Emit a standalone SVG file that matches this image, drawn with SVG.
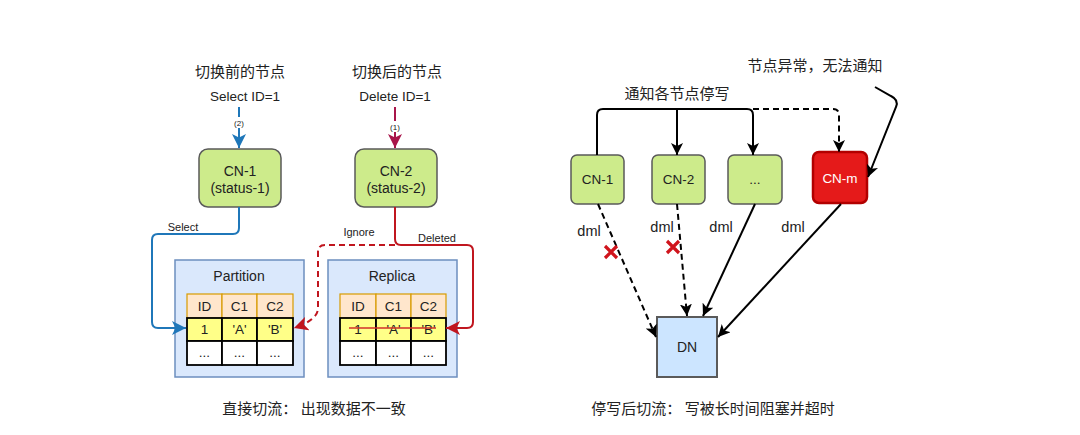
<svg xmlns="http://www.w3.org/2000/svg" width="1080" height="435" viewBox="0 0 1080 435">
<style>
text{font-family:"Liberation Sans","Noto Sans CJK SC",Arial,sans-serif;fill:#222;text-anchor:middle;dominant-baseline:central}
.cjk{font-family:"Noto Sans CJK SC","Liberation Sans",sans-serif;font-size:15px}
.green{fill:#cdeb8b;stroke:#5a5a5a;stroke-width:1.5}
.cont{fill:#dae8fc;stroke:#6c8ebf;stroke-width:1.5}
.hdr{fill:#ffe6cc;stroke:#d79b00;stroke-width:1.2}
.yel{fill:#ffff88;stroke:#000;stroke-width:1.8}
.wht{fill:#fff;stroke:#000;stroke-width:1.8}
.t13{font-size:13.5px}
.t14{font-size:14px}
.t11{font-size:11px}
.line{fill:none;stroke-width:2}
.dash{stroke-dasharray:6 4}
</style>
<defs>
<marker id="ab" markerUnits="userSpaceOnUse" viewBox="0 0 12 12" refX="12" refY="6" markerWidth="14" markerHeight="14" orient="auto"><path d="M0,0 L12,6 L0,12 L3,6 Z" fill="#1f77b9"/></marker>
<marker id="ar" markerUnits="userSpaceOnUse" viewBox="0 0 12 12" refX="12" refY="6" markerWidth="14" markerHeight="14" orient="auto"><path d="M0,0 L12,6 L0,12 L3,6 Z" fill="#c0161f"/></marker>
<marker id="am" markerUnits="userSpaceOnUse" viewBox="0 0 12 12" refX="12" refY="6" markerWidth="14" markerHeight="14" orient="auto"><path d="M0,0 L12,6 L0,12 L3,6 Z" fill="#a8154a"/></marker>
<marker id="ak" markerUnits="userSpaceOnUse" viewBox="0 0 12 12" refX="12" refY="6" markerWidth="12" markerHeight="12" orient="auto"><path d="M0,0 L12,6 L0,12 L3,6 Z" fill="#000"/></marker>
</defs>
<rect width="1080" height="435" fill="#fff"/>

<g id="labels-left">
<text class="cjk" x="240" y="70">切换前的节点</text>
<text class="cjk" x="397" y="70">切换后的节点</text>
<text class="t13" x="245" y="96">Select ID=1</text>
<text class="t13" x="395" y="96">Delete ID=1</text>
<text class="cjk" x="314" y="407">直接切流： 出现数据不一致</text>
</g>

<g id="cn1">
<rect class="green" x="199" y="149" width="82" height="58" rx="9"/>
<text class="t14" x="240" y="171">CN-1</text>
<text class="t14" x="240" y="188">(status-1)</text>
</g>
<g id="cn2">
<rect class="green" x="355" y="149" width="82" height="58" rx="9"/>
<text class="t14" x="396" y="171">CN-2</text>
<text class="t14" x="396" y="188">(status-2)</text>
</g>

<g id="partition">
<rect class="cont" x="175" y="260" width="129" height="117"/>
<text class="t14" x="239" y="276">Partition</text>
<rect class="hdr" x="187" y="294" width="35" height="24"/>
<rect class="hdr" x="222" y="294" width="35" height="24"/>
<rect class="hdr" x="257" y="294" width="36" height="24"/>
<rect class="yel" x="187" y="318" width="35" height="23"/>
<rect class="yel" x="222" y="318" width="35" height="23"/>
<rect class="yel" x="257" y="318" width="36" height="23"/>
<rect class="wht" x="187" y="341" width="35" height="24"/>
<rect class="wht" x="222" y="341" width="35" height="24"/>
<rect class="wht" x="257" y="341" width="36" height="24"/>
<text class="t13" x="204.5" y="306">ID</text>
<text class="t13" x="239.5" y="306">C1</text>
<text class="t13" x="275" y="306">C2</text>
<text class="t13" x="204.5" y="329.5">1</text>
<text class="t13" x="239.5" y="329.5">'A'</text>
<text class="t13" x="275" y="329.5">'B'</text>
<text class="t13" x="204.5" y="352">...</text>
<text class="t13" x="239.5" y="352">...</text>
<text class="t13" x="275" y="352">...</text>
</g>

<g id="replica">
<rect class="cont" x="328" y="260" width="129" height="117"/>
<text class="t14" x="392" y="276">Replica</text>
<rect class="hdr" x="340" y="294" width="36" height="24"/>
<rect class="hdr" x="376" y="294" width="35" height="24"/>
<rect class="hdr" x="411" y="294" width="35" height="24"/>
<rect class="yel" x="340" y="318" width="36" height="23"/>
<rect class="yel" x="376" y="318" width="35" height="23"/>
<rect class="yel" x="411" y="318" width="35" height="23"/>
<rect class="wht" x="340" y="341" width="36" height="24"/>
<rect class="wht" x="376" y="341" width="35" height="24"/>
<rect class="wht" x="411" y="341" width="35" height="24"/>
<text class="t13" x="358" y="306">ID</text>
<text class="t13" x="393.5" y="306">C1</text>
<text class="t13" x="428.5" y="306">C2</text>
<text class="t13" x="358" y="329.5">1</text>
<text class="t13" x="393.5" y="329.5">'A'</text>
<text class="t13" x="428.5" y="329.5">'B'</text>
<line x1="349" y1="328" x2="436" y2="328" stroke="#d0302a" stroke-width="1.6"/>
<text class="t13" x="358" y="352">...</text>
<text class="t13" x="393.5" y="352">...</text>
<text class="t13" x="428.5" y="352">...</text>
</g>

<g id="labels-right">
<text class="cjk" x="815" y="64">节点异常，无法通知</text>
<text class="cjk" x="677" y="92">通知各节点停写</text>
<text class="cjk" x="713" y="407">停写后切流： 写被长时间阻塞并超时</text>
</g>

<g id="r-cn1">
<rect class="green" x="571" y="155" width="53" height="49" rx="6"/>
<text class="t13" x="597.5" y="179.5">CN-1</text>
</g>
<g id="r-cn2">
<rect class="green" x="652" y="155" width="53" height="49" rx="6"/>
<text class="t13" x="678.5" y="179.5">CN-2</text>
</g>
<g id="r-dots">
<rect class="green" x="728" y="155" width="54" height="49" rx="6"/>
<text class="t13" x="755" y="179.5">...</text>
</g>
<g id="r-cnm">
<rect x="813" y="152" width="54" height="51" rx="6" fill="#e51a1a" stroke="#b20000" stroke-width="2.5"/>
<text class="t13" x="840" y="178" style="fill:#fff">CN-m</text>
</g>
<g id="dn">
<rect x="657" y="317" width="60" height="60" fill="#cce5ff" stroke="#5a5a5a" stroke-width="2"/>
<text class="t14" x="687" y="347">DN</text>
</g>

<g id="connectors-left">
<path class="line" stroke="#1f77b9" d="M239,107 V148" marker-end="url(#ab)"/>
<rect x="232" y="117" width="14" height="11" fill="#fff"/>
<text x="239" y="123" font-size="8">(2)</text>
<path class="line" stroke="#a8154a" d="M395,107 V148" marker-end="url(#am)"/>
<rect x="388" y="121" width="14" height="11" fill="#fff"/>
<text x="395" y="127" font-size="8">(1)</text>
<path class="line" stroke="#1f77b9" d="M239,207 V228 Q239,234 233,234 H158 Q152,234 152,240 V322 Q152,328 158,328 H186" marker-end="url(#ab)"/>
<text class="t11" x="183" y="227">Select</text>
<path class="line" stroke="#c0161f" d="M395,207 V239 Q395,245 401,245 H467 Q473,245 473,251 V322 Q473,328 467,328 H446" marker-end="url(#ar)"/>
<text class="t11" x="437" y="238">Deleted</text>
<path class="line dash" stroke="#c0161f" d="M395,245 H325 Q318,245 318,252 V308 Q318,320 294,328" marker-end="url(#ar)"/>
<text class="t11" x="359" y="232">Ignore</text>
</g>

<g id="connectors-right">
<path class="line" stroke="#000" d="M597,155 V115 Q597,109 603,109 H747 Q753,109 753,115 V155" marker-end="url(#ak)"/>
<path class="line" stroke="#000" d="M677,109 V155" marker-end="url(#ak)"/>
<path class="line dash" stroke="#000" d="M753,109 H833 Q839,109 839,115 V152" marker-end="url(#ak)"/>
<path class="line" stroke="#000" d="M875,87 L891,96 Q899,100 896,107 L868,177" marker-end="url(#ak)"/>
<path class="line dash" stroke="#000" d="M598,204 L656,337" marker-end="url(#ak)"/>
<path class="line dash" stroke="#000" d="M677,204 L687,316" marker-end="url(#ak)"/>
<path class="line" stroke="#000" d="M755,204 L703,316" marker-end="url(#ak)"/>
<path class="line" stroke="#000" d="M841,204 L718,337" marker-end="url(#ak)"/>
<text x="589" y="231" font-size="14.5">dml</text>
<text x="662" y="227" font-size="14.5">dml</text>
<text x="721" y="227" font-size="14.5">dml</text>
<text x="793" y="227" font-size="14.5">dml</text>
<path d="M605,246 L617,258 M617,246 L605,258" stroke="#d0141c" stroke-width="3.2" fill="none"/>
<path d="M667,241 L679,253 M679,241 L667,253" stroke="#d0141c" stroke-width="3.2" fill="none"/>
</g>
</svg>
